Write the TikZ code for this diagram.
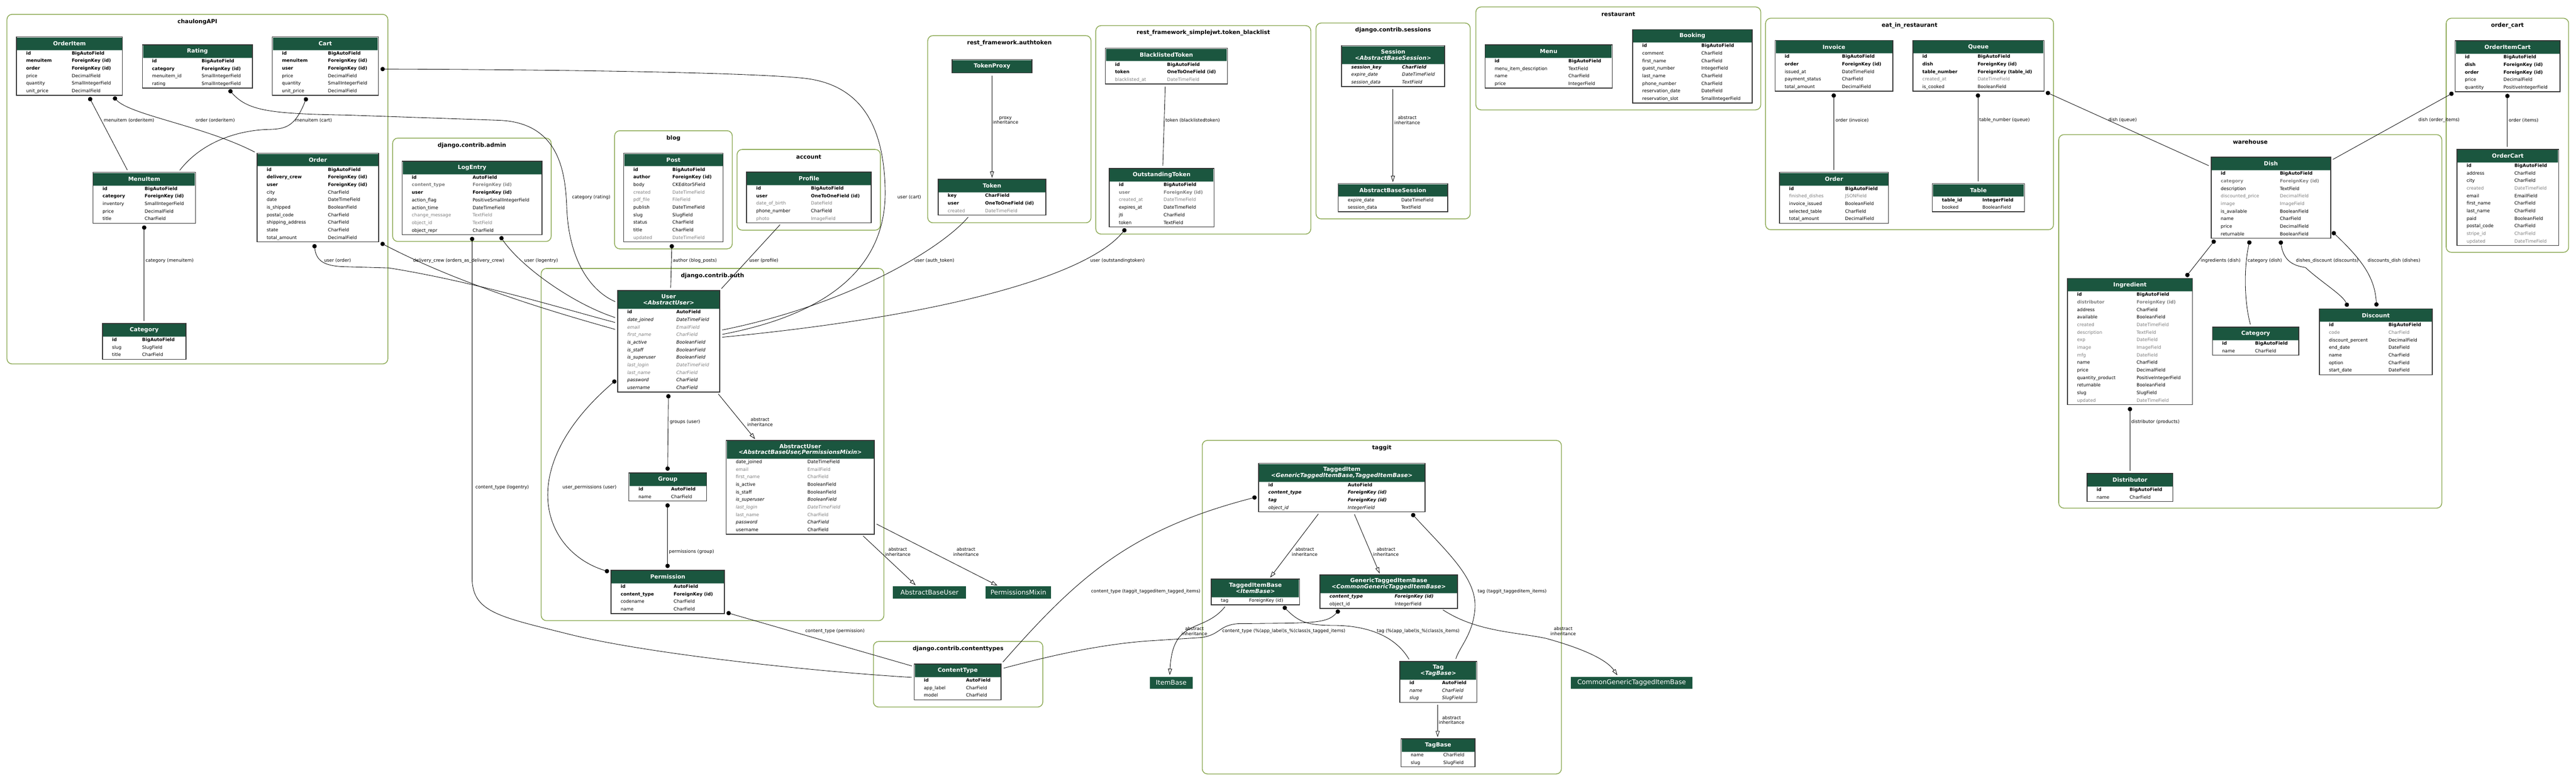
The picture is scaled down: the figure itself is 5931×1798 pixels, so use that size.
\documentclass[tikz,border=0pt]{standalone}
\usepackage{fontspec}
\setmainfont{DejaVu Sans}
\usetikzlibrary{arrows.meta}

\definecolor{hdr}{HTML}{1B563F}
\definecolor{clus}{HTML}{8DAA55}
\definecolor{fgray}{HTML}{7F7F7F}
\newcommand\fldfont{\fontsize{10.4}{12}\selectfont}

% model box: name, x, y, width, type column, header height, rows, title, fields
\newcommand\model[9]{%
  \node[model, minimum width=#4pt, minimum height={(#6+#7*17.4)*1pt}] (#1) at (#2,#3) {};
  \fill[hdr] (#2+1.2,#3+1.2) rectangle (#2+#4-1.2,#3+#6);
  \draw[hdrrule] (#2+1.2,#3+#6) -- (#2+#4-1.2,#3+#6);
  \node[mtitle] (#1-t) at (#2+#4/2,#3+#6/2) {#8};
  \foreach \st/\fnm/\ftp [count=\k] in {#9} {
    \node[\st] (#1-n\k) at (#2+22,#3+#6+17.4*\k-6.4) {\fnm};
    \node[\st] (#1-t\k) at (#2+#5,#3+#6+17.4*\k-6.4) {\ftp};
  }%
  \draw[border] (#1.north west) rectangle (#1.south east);
}
% app cluster: name, x1, y1, x2, y2, title
\newcommand\cluster[6]{%
  \draw[cluster] (#2,#3) rectangle (#4,#5);
  \node[ctitle] (#1) at ({(#2+#4)/2},#3+17) {#6};
}

\begin{document}
\begin{tikzpicture}[x=1pt, y=-1pt,
    model/.style={anchor=north west, fill=white, inner sep=0, outer sep=0},
    border/.style={draw=black!80, line width=1.8pt},
    hdrrule/.style={draw=hdr!45, line width=1pt},
    mtitle/.style={text=white, font=\fontsize{13}{14}\selectfont\bfseries, align=center, inner sep=0},
    ctitle/.style={font=\fontsize{13}{14}\selectfont\bfseries, inner sep=0},
    cluster/.style={draw=clus, line width=1.8pt, rounded corners=12pt},
    ph/.style={anchor=north west, fill=hdr, text=white, font=\fontsize{15}{16}\selectfont, minimum height=28pt, inner sep=0},
    fn/.style={anchor=base west, inner sep=0, font=\fldfont},
    fb/.style={fn, font=\fldfont\bfseries},
    fg/.style={fn, text=fgray},
    fgb/.style={fb, text=fgray},
    fi/.style={fn, font=\fldfont\itshape},
    fbi/.style={fn, font=\fldfont\bfseries\itshape},
    fgi/.style={fi, text=fgray},
    lbl/.style={anchor=west, inner sep=0, font=\fontsize{10.4}{11.5}\selectfont},
    lblc/.style={lbl, anchor=center, align=center},
    fk/.style={draw, line width=1pt, {Circle[length=10pt]}-, shorten <=5pt, shorten >=6pt},
    mm/.style={draw, line width=1pt, {Circle[length=10pt]}-{Circle[length=10pt]}, shorten <=5pt, shorten >=5pt},
    oto/.style={draw, line width=1pt, shorten <=6pt, shorten >=6pt},
    inh/.style={draw, line width=1pt, -{Triangle[open, length=14pt, width=9pt]}, shorten <=6pt, shorten >=4pt}]

\fill[white] (0,0) rectangle (5931,1798);
\useasboundingbox (0,0) rectangle (5931,1798);

\cluster{cChaulong}{16}{33}{893}{838}{chaulongAPI}
\cluster{cAdmin}{904}{318}{1269}{556}{django.contrib.admin}
\cluster{cBlog}{1415}{301}{1686}{573}{blog}
\cluster{cAccount}{1697}{344}{2027}{530}{account}
\cluster{cAuthtoken}{2136}{82}{2512}{513}{rest\_framework.authtoken}
\cluster{cBlacklist}{2523}{59}{3018}{539}{rest\_framework\_simplejwt.token\_blacklist}
\cluster{cSessions}{3030}{53}{3385}{504}{django.contrib.sessions}
\cluster{cRestaurant}{3398}{16}{4054}{253}{restaurant}
\cluster{cEatIn}{4065}{42}{4728}{529}{eat\_in\_restaurant}
\cluster{cWarehouse}{4740}{310}{5622}{1170}{warehouse}
\cluster{cOrderCart}{5632}{42}{5914}{581}{order\_cart}
\cluster{cAuth}{1246}{618}{2035}{1429}{django.contrib.auth}
\cluster{cContenttypes}{2011}{1477}{2401}{1628}{django.contrib.contenttypes}
\cluster{cTaggit}{2768}{1014}{3595}{1782}{taggit}

\model{OrderItem}{38}{85}{244}{127}{30}{6}{OrderItem}{fb/id/BigAutoField, fb/menuitem/ForeignKey (id), fb/order/ForeignKey (id), fn/price/DecimalField, fn/quantity/SmallIntegerField, fn/unit\_price/DecimalField}
\model{Rating}{328}{103}{253}{136}{30}{4}{Rating}{fb/id/BigAutoField, fb/category/ForeignKey (id), fn/menuitem\_id/SmallIntegerField, fn/rating/SmallIntegerField}
\model{Cart}{627}{85}{244}{128}{30}{6}{Cart}{fb/id/BigAutoField, fb/menuitem/ForeignKey (id), fb/user/ForeignKey (id), fn/price/DecimalField, fn/quantity/SmallIntegerField, fn/unit\_price/DecimalField}
\model{MenuItem}{214}{397}{236}{119}{30}{5}{MenuItem}{fb/id/BigAutoField, fb/category/ForeignKey (id), fn/inventory/SmallIntegerField, fn/price/DecimalField, fn/title/CharField}
\model{chOrder}{592}{353}{280}{163}{30}{10}{Order}{fb/id/BigAutoField, fb/delivery\_crew/ForeignKey (id), fb/user/ForeignKey (id), fn/city/CharField, fn/date/DateTimeField, fn/is\_shipped/BooleanField, fn/postal\_code/CharField, fn/shipping\_address/CharField, fn/state/CharField, fn/total\_amount/DecimalField}
\model{chCategory}{236}{745}{192}{91}{30}{3}{Category}{fb/id/BigAutoField, fn/slug/SlugField, fn/title/CharField}

\model{LogEntry}{926}{371}{322}{162}{30}{8}{LogEntry}{fb/id/AutoField, fgb/content\_type/ForeignKey (id), fb/user/ForeignKey (id), fn/action\_flag/PositiveSmallIntegerField, fn/action\_time/DateTimeField, fg/change\_message/TextField, fg/object\_id/TextField, fn/object\_repr/CharField}
\model{Post}{1436}{353}{229}{112}{30}{10}{Post}{fb/id/BigAutoField, fb/author/ForeignKey (id), fn/body/CKEditor5Field, fg/created/DateTimeField, fg/pdf\_file/FileField, fn/publish/DateTimeField, fn/slug/SlugField, fn/status/CharField, fn/title/CharField, fg/updated/DateTimeField}
\model{Profile}{1719}{396}{287}{148}{30}{5}{Profile}{fb/id/BigAutoField, fb/user/OneToOneField (id), fg/date\_of\_birth/DateField, fn/phone\_number/CharField, fg/photo/ImageField}

\node[model, minimum width=184pt, minimum height=31pt] (TokenProxy) at (2192,137) {};
\fill[hdr] (2193.2,138.2) rectangle (2374.8,166.8);
\node[mtitle] (TokenProxy-t) at (2284,152.5) {TokenProxy};
\draw[border] (TokenProxy.north west) rectangle (TokenProxy.south east);
\model{Token}{2160}{413}{248}{108}{30}{3}{Token}{fb/key/CharField, fb/user/OneToOneField (id), fg/created/DateTimeField}
\model{BlacklistedToken}{2545}{111}{281}{142}{30}{3}{BlacklistedToken}{fb/id/BigAutoField, fb/token/OneToOneField (id), fg/blacklisted\_at/DateTimeField}
\model{OutstandingToken}{2554}{388}{241}{125}{30}{6}{OutstandingToken}{fb/id/BigAutoField, fgb/user/ForeignKey (id), fg/created\_at/DateTimeField, fn/expires\_at/DateTimeField, fn/jti/CharField, fn/token/TextField}
\model{Session}{3089}{105}{237}{139}{42}{3}{Session\\{\itshape<AbstractBaseSession>}}{fbi/session\_key/CharField, fi/expire\_date/DateTimeField, fi/session\_data/TextField}
\model{AbstractBaseSession}{3081}{423}{252}{145}{30}{2}{AbstractBaseSession}{fn/expire\_date/DateTimeField, fn/session\_data/TextField}

\model{Menu}{3419}{103}{293}{192}{30}{4}{Menu}{fb/id/BigAutoField, fn/menu\_item\_description/TextField, fn/name/CharField, fn/price/IntegerField}
\model{Booking}{3759}{68}{275}{158}{30}{8}{Booking}{fb/id/BigAutoField, fn/comment/CharField, fn/first\_name/CharField, fn/guest\_number/IntegerField, fn/last\_name/CharField, fn/phone\_number/CharField, fn/reservation\_date/DateField, fn/reservation\_slot/SmallIntegerField}
\model{Invoice}{4087}{93}{271}{154}{30}{5}{Invoice}{fb/id/BigAutoField, fb/order/ForeignKey (id), fn/issued\_at/DateTimeField, fn/payment\_status/CharField, fn/total\_amount/DecimalField}
\model{Queue}{4404}{93}{302}{149}{30}{5}{Queue}{fb/id/BigAutoField, fb/dish/ForeignKey (id), fb/table\_number/ForeignKey (table\_id), fg/created\_at/DateTimeField, fn/is\_cooked/BooleanField}
\model{eatOrder}{4097}{397}{251}{151}{30}{5}{Order}{fb/id/BigAutoField, fg/finished\_dishes/JSONField, fn/invoice\_issued/BooleanField, fn/selected\_table/CharField, fn/total\_amount/DecimalField}
\model{Table}{4449}{423}{212}{115}{30}{2}{Table}{fb/table\_id/IntegerField, fn/booked/BooleanField}
\model{OrderItemCart}{5653}{94}{241}{111}{30}{5}{OrderItemCart}{fb/id/BigAutoField, fb/dish/ForeignKey (id), fb/order/ForeignKey (id), fn/price/DecimalField, fn/quantity/PositiveIntegerField}
\model{OrderCart}{5657}{344}{234}{132}{30}{11}{OrderCart}{fb/id/BigAutoField, fn/address/CharField, fn/city/CharField, fg/created/DateTimeField, fn/email/EmailField, fn/first\_name/CharField, fn/last\_name/CharField, fn/paid/BooleanField, fn/postal\_code/CharField, fg/stripe\_id/CharField, fg/updated/DateTimeField}

\model{Dish}{5091}{362}{275}{158}{30}{9}{Dish}{fb/id/BigAutoField, fgb/category/ForeignKey (id), fn/description/TextField, fg/discounted\_price/DecimalField, fg/image/ImageField, fn/is\_available/BooleanField, fn/name/CharField, fn/price/DecimalField, fn/returnable/BooleanField}
\model{Ingredient}{4760}{641}{288}{159}{30}{15}{Ingredient}{fb/id/BigAutoField, fgb/distributor/ForeignKey (id), fn/address/CharField, fn/available/BooleanField, fg/created/DateTimeField, fg/description/TextField, fg/exp/DateField, fg/image/ImageField, fg/mfg/DateField, fn/name/CharField, fn/price/DecimalField, fn/quantity\_product/PositiveIntegerField, fn/returnable/BooleanField, fn/slug/SlugField, fg/updated/DateTimeField}
\model{whCategory}{5094}{753}{199}{98}{30}{2}{Category}{fb/id/BigAutoField, fn/name/CharField}
\model{Discount}{5340}{711}{260}{159}{30}{7}{Discount}{fb/id/BigAutoField, fg/code/CharField, fn/discount\_percent/DecimalField, fn/end\_date/DateField, fn/name/CharField, fn/option/CharField, fn/start\_date/DateField}
\model{Distributor}{4805}{1090}{198}{98}{30}{2}{Distributor}{fb/id/BigAutoField, fn/name/CharField}

\model{User}{1422}{669}{235}{135}{42}{11}{User\\{\itshape<AbstractUser>}}{fb/id/AutoField, fi/date\_joined/DateTimeField, fgi/email/EmailField, fgi/first\_name/CharField, fi/is\_active/BooleanField, fi/is\_staff/BooleanField, fi/is\_superuser/BooleanField, fgi/last\_login/DateTimeField, fgi/last\_name/CharField, fi/password/CharField, fi/username/CharField}
\model{AbstractUser}{1672}{1014}{341}{187}{42}{10}{AbstractUser\\{\itshape<AbstractBaseUser,PermissionsMixin>}}{fn/date\_joined/DateTimeField, fg/email/EmailField, fg/first\_name/CharField, fn/is\_active/BooleanField, fn/is\_staff/BooleanField, fi/is\_superuser/BooleanField, fgi/last\_login/DateTimeField, fg/last\_name/CharField, fi/password/CharField, fn/username/CharField}
\model{Group}{1448}{1089}{179}{97}{30}{2}{Group}{fb/id/AutoField, fn/name/CharField}
\model{Permission}{1407}{1313}{261}{144}{30}{4}{Permission}{fb/id/AutoField, fb/content\_type/ForeignKey (id), fn/codename/CharField, fn/name/CharField}
\node[ph, minimum width=168pt] (AbstractBaseUser) at (2056,1350) {AbstractBaseUser};
\node[ph, minimum width=151pt] (PermissionsMixin) at (2269,1350) {PermissionsMixin};
\model{ContentType}{2105}{1529}{200}{119}{30}{3}{ContentType}{fb/id/AutoField, fn/app\_label/CharField, fn/model/CharField}

\model{TaggedItem}{2898}{1067}{383}{205}{42}{4}{TaggedItem\\{\itshape<GenericTaggedItemBase,TaggedItemBase>}}{fb/id/AutoField, fbi/content\_type/ForeignKey (id), fbi/tag/ForeignKey (id), fi/object\_id/IntegerField}
\model{TaggedItemBase}{2789}{1333}{203}{87}{42}{1}{TaggedItemBase\\{\itshape<ItemBase>}}{fn/tag/ForeignKey (id)}
\model{GenericTaggedItemBase}{3039}{1324}{317}{172}{42}{2}{GenericTaggedItemBase\\{\itshape<CommonGenericTaggedItemBase>}}{fbi/content\_type/ForeignKey (id), fn/object\_id/IntegerField}
\model{Tag}{3223}{1523}{177}{97}{42}{3}{Tag\\{\itshape<TagBase>}}{fb/id/AutoField, fi/name/CharField, fi/slug/SlugField}
\model{TagBase}{3226}{1701}{170}{97}{30}{2}{TagBase}{fn/name/CharField, fn/slug/SlugField}
\node[ph, minimum width=99pt] (ItemBase) at (2647,1558) {ItemBase};
\node[ph, minimum width=279pt] (CommonGenericTaggedItemBase) at (3617,1558) {CommonGenericTaggedItemBase};

\draw[fk] ([xshift=165pt]OrderItem.south west) -- ([xshift=82pt]MenuItem.north west);
\draw[fk] ([xshift=220pt]OrderItem.south west) .. controls (300,265) and (470,290) .. (chOrder.north west);
\draw[fk] ([xshift=81pt]Cart.south west) .. controls (680,290) and (660,297) .. (620,298) .. controls (560,299) and (470,320) .. ([xshift=196pt]MenuItem.north west);
\draw[fk] ([xshift=118pt]MenuItem.south west) -- ([xshift=96pt]chCategory.north west);
\draw[fk] ([xshift=196pt]Rating.south west) .. controls (570,255) and (620,262) .. (800,265) -- (1150,277) .. controls (1290,283) and (1302,400) .. (1305,480) .. controls (1310,600) and (1360,670) .. ([yshift=-28pt]User.north west);
\draw[fk] ([xshift=131pt]chOrder.south west) .. controls (728,600) and (745,612) .. (790,614) -- (896,617) .. controls (1100,650) and (1300,712) .. ([yshift=-75pt]User.north west);
\draw[fk] (chOrder.south east) .. controls (1050,650) and (1250,712) .. ([yshift=-91pt]User.north west);
\draw[fk] ([xshift=223pt]LogEntry.south west) .. controls (1200,615) and (1320,700) .. ([yshift=-64pt]User.north west);
\draw[fk] ([xshift=161pt]LogEntry.south west) -- (1087,1330) .. controls (1087,1410) and (1150,1420) .. (1309,1460) .. controls (1500,1508) and (1900,1548) .. ([yshift=-31pt]ContentType.north west);
\draw[fk] ([xshift=111pt]Post.south west) -- ([xshift=122pt]User.north west);
\draw[oto] ([xshift=81pt]Profile.south west) -- (User.north east);
\draw[fk] ([yshift=-74pt]Cart.north east) .. controls (1200,160) and (1700,165) .. (1850,180) .. controls (1990,195) and (2036,300) .. (2038,440) .. controls (2040,620) and (1900,725) .. ([yshift=-102pt]User.north east);
\draw[oto] ([xshift=73pt]Token.south west) .. controls (2170,570) and (1960,700) .. ([yshift=-92pt]User.north east);
\draw[fk] ([xshift=41pt]OutstandingToken.south west) .. controls (2500,640) and (2150,730) .. ([yshift=-108pt]User.north east);
\draw[inh] ([xshift=92pt]TokenProxy.south west) -- ([xshift=124pt]Token.north west);
\draw[oto] ([xshift=138pt]BlacklistedToken.south west) -- ([xshift=123pt]OutstandingToken.north west);
\draw[inh] ([xshift=118pt]Session.south west) -- ([xshift=126pt]AbstractBaseSession.north west);
\draw[fk] ([xshift=135pt]Invoice.south west) -- ([xshift=125pt]eatOrder.north west);
\draw[fk] ([xshift=150pt]Queue.south west) -- ([xshift=105pt]Table.north west);
\draw[fk] (Queue.south east) -- ([yshift=-22pt]Dish.north west);
\draw[fk] (OrderItemCart.south west) -- ([yshift=-8pt]Dish.north east);
\draw[fk] ([xshift=120pt]OrderItemCart.south west) -- ([xshift=116pt]OrderCart.north west);
\draw[mm] ([xshift=12pt]Dish.south west) -- ([xshift=270pt]Ingredient.north west);
\draw[fk] ([xshift=90pt]Dish.south west) .. controls (5165,620) and (5168,700) .. ([xshift=89pt]whCategory.north west);
\draw[mm] ([xshift=159pt]Dish.south west) .. controls (5258,605) and (5285,612) .. (5308,616) .. controls (5345,650) and (5395,680) .. ([xshift=67pt]Discount.north west);
\draw[mm] ([yshift=-168pt]Dish.north east) .. controls (5440,600) and (5468,640) .. ([xshift=132pt]Discount.north west);
\draw[fk] ([xshift=144pt]Ingredient.south west) -- ([xshift=99pt]Distributor.north west);
\draw[mm] ([xshift=117pt]User.south west) -- ([xshift=89pt]Group.north west);
\draw[inh] ([xshift=228pt]User.south west) -- ([xshift=69pt]AbstractUser.north west);
\draw[mm] ([xshift=89pt]Group.south west) -- ([xshift=130pt]Permission.north west);
\draw[mm] ([yshift=-203pt]User.north west) .. controls (1180,1080) and (1250,1270) .. ([yshift=-5pt]Permission.north west);
\draw[fk] ([yshift=-96pt]Permission.north east) -- ([yshift=-6pt]ContentType.north west);
\draw[inh] ([xshift=311pt]AbstractUser.south west) -- ([xshift=55pt]AbstractBaseUser.north west);
\draw[inh] ([yshift=-190pt]AbstractUser.north east) -- ([xshift=31pt]PermissionsMixin.north west);
\draw[fk] ([yshift=-76pt]TaggedItem.north west) .. controls (2600,1220) and (2480,1330) .. (ContentType.north east);
\draw[inh] ([xshift=141pt]TaggedItem.south west) -- ([xshift=133pt]TaggedItemBase.north west);
\draw[inh] ([xshift=218pt]TaggedItem.south west) -- ([xshift=139pt]GenericTaggedItemBase.north west);
\draw[fk] ([xshift=349pt]TaggedItem.south west) .. controls (3330,1270) and (3400,1330) .. (3396,1400) .. controls (3392,1460) and (3360,1490) .. ([xshift=127pt]Tag.north west);
\draw[inh] ([xshift=35pt]TaggedItemBase.south west) .. controls (2770,1460) and (2700,1420) .. ([xshift=46pt]ItemBase.north west);
\draw[fk] ([xshift=48pt]GenericTaggedItemBase.south west) .. controls (3060,1430) and (3040,1434) .. (2950,1435) -- (2850,1436) .. controls (2805,1440) and (2810,1462) .. (2765,1468) -- (2640,1476) .. controls (2520,1485) and (2400,1515) .. ([yshift=-11pt]ContentType.north east);
\draw[fk] ([xshift=162pt]TaggedItemBase.south west) .. controls (2990,1432) and (3010,1440) .. (3070,1440) .. controls (3140,1440) and (3210,1460) .. ([xshift=24pt]Tag.north west);
\draw[inh] ([xshift=278pt]GenericTaggedItemBase.south west) .. controls (3400,1455) and (3490,1455) .. (3560,1470) .. controls (3650,1495) and (3700,1520) .. ([xshift=109pt]CommonGenericTaggedItemBase.north west);
\draw[inh] ([xshift=87pt]Tag.south west) -- ([xshift=84pt]TagBase.north west);

\node[lbl] (l1) at (239,277) {menuitem (orderitem)};
\node[lbl] (l2) at (450,277) {order (orderitem)};
\node[lbl] (l3) at (679,277) {menuitem (cart)};
\node[lbl] (l4) at (335,600) {category (menuitem)};
\node[lbl] (l5) at (746,600) {user (order)};
\node[lbl] (l6) at (951,600) {delivery\_crew (orders\_as\_delivery\_crew)};
\node[lbl] (l7) at (1207,600) {user (logentry)};
\node[lbl] (l8) at (1317,454) {category (rating)};
\node[lbl] (l9) at (1549,600) {author (blog\_posts)};
\node[lbl] (l10) at (1725,600) {user (profile)};
\node[lbl] (l11) at (2066,454) {user (cart)};
\node[lbl] (l12) at (2105,600) {user (auth\_token)};
\node[lbl] (l13) at (2510,600) {user (outstandingtoken)};
\node[lblc] (l14) at (2315,277) {proxy\\inheritance};
\node[lbl] (l15) at (2683,277) {token (blacklistedtoken)};
\node[lblc] (l16) at (3240,277) {abstract\\inheritance};
\node[lbl] (l17) at (4226,277) {order (invoice)};
\node[lbl] (l18) at (4557,277) {table\_number (queue)};
\node[lbl] (l19) at (4854,277) {dish (queue)};
\node[lbl] (l20) at (5568,277) {dish (order\_items)};
\node[lbl] (l21) at (5776,277) {order (items)};
\node[lbl] (l22) at (5067,600) {ingredients (dish)};
\node[lbl] (l23) at (5175,600) {category (dish)};
\node[lbl] (l24) at (5286,600) {dishes\_discount (discounts)};
\node[lbl] (l25) at (5451,600) {discounts\_dish (dishes)};
\node[lbl] (l26) at (4907,972) {distributor (products)};
\node[lbl] (l27) at (1542,972) {groups (user)};
\node[lblc] (l28) at (1750,972) {abstract\\inheritance};
\node[lbl] (l29) at (1295,1122) {user\_permissions (user)};
\node[lbl, anchor=east] (l30) at (1218,1122) {content\_type (logentry)};
\node[lbl] (l31) at (1540,1271) {permissions (group)};
\node[lblc] (l32) at (2067,1271) {abstract\\inheritance};
\node[lblc] (l33) at (2224,1271) {abstract\\inheritance};
\node[lblc] (l34) at (3004,1271) {abstract\\inheritance};
\node[lblc] (l35) at (3191,1271) {abstract\\inheritance};
\node[lbl] (l36) at (1854,1453) {content\_type (permission)};
\node[lbl, anchor=east] (l37) at (2764,1362) {content\_type (taggit\_taggeditem\_tagged\_items)};
\node[lbl] (l38) at (3402,1362) {tag (taggit\_taggeditem\_items)};
\node[lblc] (l39) at (2750,1453) {abstract\\inheritance};
\node[lbl] (l40) at (2814,1453) {content\_type (\%(app\_label)s\_\%(class)s\_tagged\_items)};
\node[lbl] (l41) at (3170,1453) {tag (\%(app\_label)s\_\%(class)s\_items)};
\node[lblc] (l42) at (3599,1453) {abstract\\inheritance};
\node[lblc] (l43) at (3342,1658) {abstract\\inheritance};
\end{tikzpicture}
\end{document}
